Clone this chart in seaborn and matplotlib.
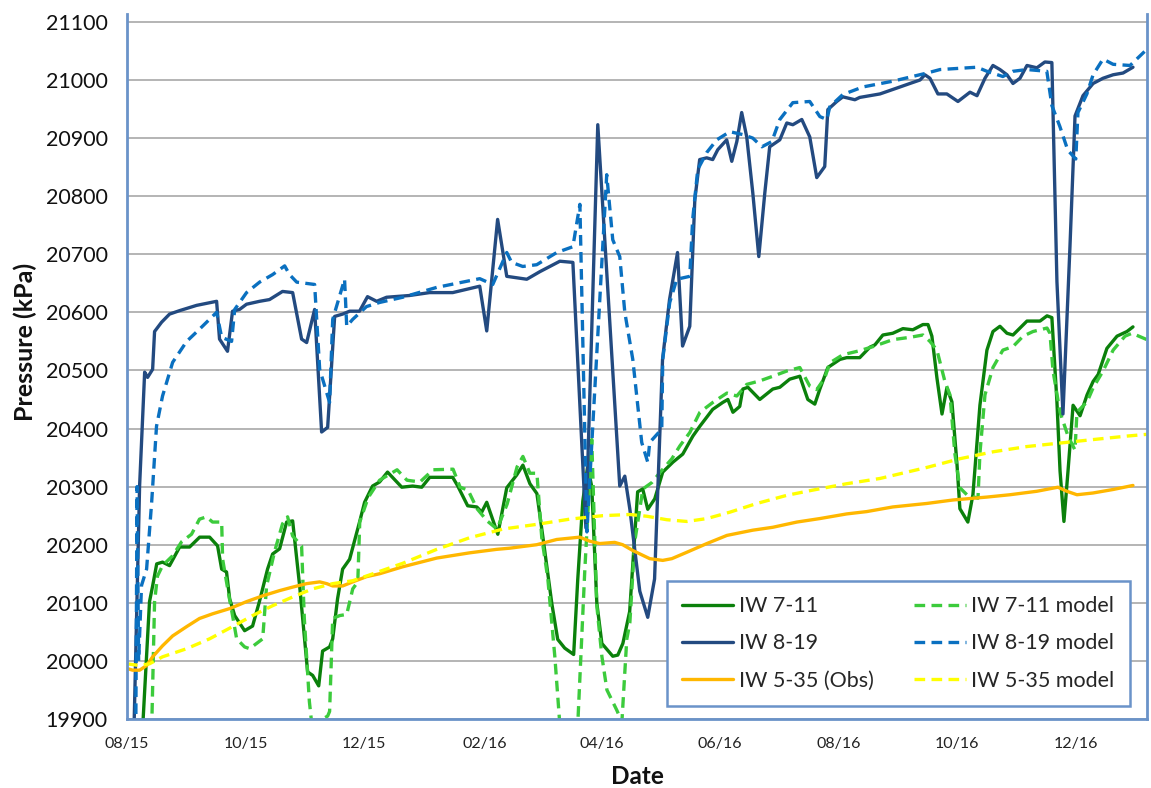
import numpy as np
import pandas as pd
import matplotlib
matplotlib.use("Agg")
import matplotlib.pyplot as plt
import matplotlib.dates as mdates
from matplotlib.lines import Line2D
import seaborn as sns

# ---------------- data (days since 2015-08-01, pressure in kPa) ----------------
START = "2015-08-01"
X_END_DAY = 524.5

iw711_day = [8.0, 11.6, 13.2, 15.3, 18.3, 21.9, 27.1, 32.2, 37.4, 42.5, 46.6, 48.7, 51.2, 52.8,
             55.4, 60.5, 64.6, 68.1, 72.3, 74.9, 78.5, 82.1, 85.2, 88.8, 92.9, 95.5, 98.6, 100.6,
             104.2, 105.8, 108.3, 110.9, 114.5, 119.6, 122.2, 126.3, 129.9, 134.0, 141.3, 146.9,
             151.6, 155.7, 167.5, 170.1, 175.2, 179.9, 182.4, 185.0, 187.6, 190.7, 195.3, 200.4,
             203.6, 207.2, 210.8, 213.8, 218.5, 221.5, 225.1, 229.7, 231.8, 234.4, 236.9, 239.0,
             241.6, 244.2, 249.8, 252.4, 255.0, 258.5, 262.6, 265.2, 267.8, 271.4, 275.5, 280.7,
             285.8, 291.0, 294.6, 301.2, 306.4, 309.0, 311.6, 315.1, 316.7, 319.3, 325.4, 332.1,
             335.7, 340.8, 346.0, 350.1, 353.7, 356.3, 360.4, 366.6, 370.1, 376.8, 382.0, 384.6,
             388.7, 393.8, 399.0, 404.1, 409.3, 411.9, 413.9, 416.5, 419.1, 421.6, 424.2, 426.8,
             428.3, 432.4, 435.0, 438.6, 442.2, 445.3, 448.9, 452.5, 455.6, 459.2, 462.8, 469.5,
             473.1, 475.6, 478.2, 479.8, 481.8, 483.9, 486.5, 490.1, 493.7, 496.8, 499.4, 503.9,
             509.1, 514.2, 517.3]
iw711_kpa = [19880, 20102, 20129, 20167, 20170, 20164, 20196, 20196, 20213, 20213, 20198, 20158, 20153, 20107,
             20078, 20052, 20060, 20102, 20158, 20184, 20193, 20239, 20241, 20129, 19981, 19975, 19957, 20017,
             20024, 20038, 20107, 20158, 20175, 20239, 20273, 20301, 20308, 20325, 20299, 20301,
             20299, 20316, 20316, 20301, 20267, 20265, 20256, 20273, 20248, 20218, 20298, 20320,
             20337, 20305, 20288, 20215, 20098, 20037, 20022, 20011, 20140, 20275, 20335, 20300,
             20100, 20030, 20008, 20010, 20030, 20085, 20291, 20296, 20261, 20279, 20325, 20342,
             20356, 20387, 20404, 20433, 20445, 20450, 20428, 20438, 20468, 20471, 20450, 20468,
             20471, 20485, 20490, 20450, 20442, 20468, 20505, 20519, 20522, 20522, 20540, 20544,
             20561, 20564, 20572, 20570, 20579, 20579, 20559, 20487, 20425, 20470, 20446, 20339,
             20262, 20239, 20286, 20440, 20535, 20567, 20576, 20564, 20561, 20573, 20585, 20585,
             20594, 20591, 20446, 20327, 20240, 20327, 20440, 20422, 20458, 20481, 20493, 20538,
             20559, 20567, 20575]

iw711m_day = [12.7, 14.2, 15.7, 18.3, 23.5, 28.1, 33.2, 37.3, 40.9, 44.0, 48.7, 49.2, 51.8, 54.3,
              56.4, 60.5, 63.1, 69.8, 71.8, 75.9, 80.0, 82.6, 85.2, 89.8, 91.2, 93.8, 95.4, 98.1,
              103.2, 104.2, 105.8, 109.4, 113.0, 116.1, 118.7, 119.7, 123.2, 124.8, 129.9, 138.9,
              144.0, 150.7, 157.4, 167.7, 171.3, 175.4, 180.0, 185.2, 190.3, 195.5, 200.6, 203.6,
              207.2, 210.8, 213.3, 216.4, 220.0, 222.6, 227.7, 231.8, 235.4, 239.0, 241.6, 244.2,
              246.8, 251.9, 254.5, 257.0, 258.6, 261.1, 265.3, 269.9, 274.0, 280.2, 284.3, 289.4,
              294.6, 301.3, 308.5, 313.6, 318.7, 325.4, 332.1, 339.3, 346.0, 351.1, 354.7, 358.8,
              361.4, 368.1, 376.8, 383.6, 393.8, 402.6, 409.3, 412.9, 416.5, 420.6, 423.2, 425.7,
              428.3, 431.9, 437.6, 438.6, 441.2, 445.3, 450.4, 455.6, 460.8, 465.9, 473.1, 474.6,
              476.2, 479.8, 483.9, 487.5, 488.5, 493.7, 496.8, 501.9, 507.1, 513.2, 516.8, 524.5]
iw711m_kpa = [19880, 20102, 20146, 20164, 20181, 20205, 20218, 20244, 20248, 20239, 20239, 20175, 20124, 20078,
              20038, 20024, 20021, 20038, 20129, 20188, 20236, 20248, 20215, 20198, 20073, 19930, 19880, 19895,
              19905, 19913, 20073, 20078, 20080, 20124, 20136, 20239, 20273, 20285, 20311, 20329,
              20311, 20308, 20329, 20330, 20299, 20294, 20262, 20241, 20227, 20270, 20334, 20352,
              20323, 20323, 20212, 20142, 20008, 19890, 19850, 19890, 20154, 20381, 20095, 20008,
              19950, 19915, 19895, 20037, 20066, 20205, 20296, 20307, 20324, 20348, 20370, 20393,
              20428, 20445, 20461, 20456, 20476, 20482, 20490, 20499, 20505, 20473, 20467, 20487,
              20513, 20527, 20534, 20541, 20553, 20557, 20561, 20550, 20535, 20481, 20458, 20357,
              20298, 20286, 20280, 20357, 20458, 20505, 20535, 20541, 20559, 20567, 20573, 20564,
              20499, 20428, 20387, 20363, 20428, 20446, 20470, 20499, 20535, 20559, 20564, 20553]

iw819_day = [3.4, 6.5, 9.1, 10.6, 13.2, 14.2, 17.8, 21.9, 27.1, 35.8, 46.1, 47.6, 51.7, 54.3,
             57.9, 61.5, 68.2, 73.3, 80.0, 85.2, 89.8, 92.4, 96.5, 100.1, 103.2, 106.8, 110.9, 114.5,
             119.6, 123.7, 128.4, 133.5, 145.3, 155.6, 167.5, 181.4, 185.0, 190.6, 195.3, 205.6,
             212.3, 222.6, 229.3, 236.0, 242.1, 253.4, 256.0, 258.6, 263.7, 267.8, 271.3, 275.4,
             279.0, 283.1, 285.7, 289.4, 292.0, 294.5, 298.1, 301.2, 303.8, 308.4, 311.0, 313.6,
             316.1, 318.7, 321.8, 324.9, 328.0, 330.5, 335.7, 339.3, 342.4, 347.0, 351.1, 354.7,
             358.8, 360.4, 365.0, 368.1, 374.3, 376.8, 387.2, 397.5, 402.6, 407.8, 410.3, 412.9,
             417.0, 421.6, 427.3, 433.5, 437.1, 441.2, 445.3, 448.9, 452.5, 455.6, 459.2, 462.8,
             467.9, 472.0, 475.6, 478.2, 481.3, 484.9, 487.5, 491.6, 496.8, 501.9, 507.1, 512.2,
             517.3]
iw819_kpa = [19850, 20301, 20497, 20488, 20502, 20567, 20583, 20597, 20603, 20612, 20619, 20554, 20533, 20602,
             20605, 20614, 20619, 20622, 20636, 20634, 20554, 20548, 20605, 20394, 20402, 20593, 20597, 20602,
             20602, 20627, 20619, 20626, 20629, 20634, 20634, 20645, 20568, 20760, 20662, 20657,
             20670, 20688, 20686, 20229, 20923, 20301, 20318, 20261, 20120, 20075, 20141, 20519,
             20622, 20703, 20542, 20576, 20794, 20863, 20866, 20863, 20880, 20897, 20860, 20894,
             20944, 20902, 20806, 20696, 20806, 20885, 20897, 20926, 20923, 20932, 20902, 20832,
             20851, 20949, 20963, 20971, 20966, 20970, 20976, 20988, 20994, 21000, 21009, 21003,
             20976, 20976, 20963, 20979, 20973, 21003, 21025, 21018, 21009, 20994, 21003, 21025,
             21021, 21031, 21030, 20653, 20425, 20713, 20938, 20973, 20994, 21003, 21009, 21012,
             21022]

iw819m_day = [4.5, 5.2, 6.0, 7.5, 10.1, 12.7, 15.2, 18.3, 23.5, 30.7, 37.3, 46.1, 48.7, 53.8,
              55.4, 61.5, 68.2, 74.9, 81.1, 83.6, 87.3, 96.5, 99.1, 104.2, 105.8, 111.9, 113.0, 116.1,
              123.2, 129.9, 141.8, 159.3, 181.4, 188.1, 195.3, 197.8, 203.5, 210.7, 221.0, 229.3,
              232.9, 236.5, 246.7, 249.8, 253.4, 256.0, 260.1, 264.7, 267.8, 268.8, 275.0, 275.5,
              279.1, 282.7, 289.4, 290.9, 293.5, 298.1, 303.3, 310.0, 316.7, 321.8, 326.5, 331.6,
              335.7, 342.4, 351.1, 356.3, 359.9, 361.4, 368.1, 378.4, 393.9, 411.4, 418.1, 437.1,
              442.2, 450.4, 455.6, 462.8, 473.0, 475.6, 479.7, 483.8, 487.9, 489.0, 493.6, 496.8,
              501.9, 507.1, 515.8, 524.5]
iw819m_kpa = [19850, 20300, 20000, 20130, 20158, 20273, 20404, 20456, 20514, 20550, 20571, 20600, 20557, 20550,
              20605, 20634, 20652, 20665, 20680, 20665, 20652, 20648, 20502, 20445, 20588, 20657, 20576, 20588,
              20610, 20617, 20626, 20643, 20658, 20648, 20703, 20686, 20679, 20682, 20703, 20713,
              20786, 20222, 20837, 20725, 20696, 20600, 20519, 20376, 20342, 20376, 20399, 20519,
              20617, 20657, 20662, 20760, 20846, 20875, 20897, 20911, 20906, 20900, 20885, 20894,
              20932, 20961, 20963, 20937, 20932, 20954, 20975, 20988, 20998, 21012, 21018, 21022,
              21015, 21006, 21015, 21018, 21015, 20956, 20920, 20879, 20864, 20944, 20976, 21009,
              21036, 21027, 21025, 21053]

iw535_day = [0.0, 2.9, 6.5, 10.1, 13.2, 18.3, 23.5, 30.7, 37.3, 44.0, 52.8, 61.5, 69.8, 78.5,
             85.2, 92.4, 99.1, 102.7, 105.8, 110.9, 116.1, 123.2, 129.9, 141.8, 159.3, 176.2, 190.1,
             196.8, 210.7, 221.0, 232.8, 238.0, 243.1, 250.8, 254.9, 260.1, 268.8, 275.5, 280.2,
             287.9, 298.2, 308.5, 321.8, 332.1, 344.5, 356.3, 370.1, 380.4, 393.8, 411.3, 424.8,
             442.2, 454.0, 467.9, 478.7, 483.3, 488.5, 496.7, 507.0, 517.3]
iw535_kpa = [19987, 19984, 19984, 19992, 20007, 20026, 20043, 20059, 20073, 20081, 20090, 20102, 20112, 20121,
             20127, 20133, 20136, 20133, 20129, 20129, 20136, 20145, 20150, 20162, 20177, 20186, 20192,
             20194, 20200, 20209, 20213, 20206, 20202, 20204, 20200, 20190, 20176, 20173, 20176,
             20187, 20202, 20216, 20225, 20230, 20239, 20245, 20253, 20257, 20265, 20271, 20277,
             20282, 20286, 20292, 20299, 20292, 20286, 20289, 20295, 20302]

iw535m_day = [0.0, 6.5, 11.6, 18.3, 30.7, 42.5, 54.3, 64.6, 74.9, 85.2, 95.5, 105.8, 116.1, 124.8,
              141.8, 159.3, 176.2, 193.4, 210.7, 227.7, 244.7, 258.6, 267.3, 277.6, 287.9, 298.2,
              310.0, 323.9, 339.3, 352.7, 370.1, 387.2, 411.3, 428.3, 445.5, 462.8, 479.8, 496.8,
              514.2, 524.5]
iw535m_kpa = [19995, 19992, 19995, 20007, 20021, 20038, 20059, 20078, 20095, 20110, 20124, 20133, 20138, 20148,
              20168, 20192, 20212, 20227, 20235, 20244, 20250, 20252, 20249, 20243, 20240, 20245,
              20256, 20271, 20285, 20294, 20305, 20314, 20333, 20348, 20360, 20369, 20375, 20381,
              20387, 20390]

series_names = ["IW 7-11", "IW 7-11 model", "IW 8-19", "IW 8-19 model",
                "IW 5-35 (Obs)", "IW 5-35 model"]
y_ticks = list(range(19900, 21101, 100))

# ---------------- styling ----------------
styles = {
    "IW 7-11":       dict(color="#0B800B", dashed=False),
    "IW 7-11 model": dict(color="#3CCB3C", dashed=True),
    "IW 8-19":       dict(color="#234A80", dashed=False),
    "IW 8-19 model": dict(color="#0A70C0", dashed=True),
    "IW 5-35 (Obs)": dict(color="#FFB700", dashed=False),
    "IW 5-35 model": dict(color="#FFFF00", dashed=True),
}
DASH = (0, (3.2, 1.9))
LW = 2.4
SPINE = "#6A93C9"

base = pd.Timestamp(START)
frames = []
for name, d, v in [("IW 7-11", iw711_day, iw711_kpa), ("IW 7-11 model", iw711m_day, iw711m_kpa),
                   ("IW 8-19", iw819_day, iw819_kpa), ("IW 8-19 model", iw819m_day, iw819m_kpa),
                   ("IW 5-35 (Obs)", iw535_day, iw535_kpa), ("IW 5-35 model", iw535m_day, iw535m_kpa)]:
    frames.append(pd.DataFrame({"date": base + pd.to_timedelta(np.array(d), unit="D"),
                                "kpa": v, "series": name}))
df = pd.concat(frames, ignore_index=True)

sns.set_theme(style="white")
plt.rcParams["font.family"] = ["Lato", "DejaVu Sans"]

fig = plt.figure(figsize=(11.51, 7.88), dpi=100)
ax = fig.add_axes([0.1103, 0.0876, 0.8862, 0.8947])

handles = {}
for name in series_names:
    st = styles[name]
    sub = df[df["series"] == name]
    sns.lineplot(data=sub, x="date", y="kpa", ax=ax, color=st["color"], linewidth=LW,
                 estimator=None, sort=False, legend=False)
    line = ax.lines[-1]
    if st["dashed"]:
        line.set_linestyle(DASH)
    line.set_solid_joinstyle("round")
    line.set_dash_joinstyle("round")
    handles[name] = Line2D([0], [0], color=st["color"], lw=LW,
                           linestyle=DASH if st["dashed"] else "-")

ax.set_xlim(base, base + pd.Timedelta(days=X_END_DAY))
ax.set_ylim(19900, 21113.7)
ax.set_yticks(y_ticks)
ax.xaxis.set_major_locator(mdates.MonthLocator(bymonth=[2, 4, 6, 8, 10, 12]))
ax.xaxis.set_major_formatter(mdates.DateFormatter("%m/%y"))

ax.set_axisbelow(True)
ax.yaxis.grid(True, color="#A8A8A8", linewidth=1.2)
ax.xaxis.grid(False)

for s in ["left", "bottom", "right"]:
    ax.spines[s].set_visible(True)
    ax.spines[s].set_color(SPINE)
    ax.spines[s].set_linewidth(2.0)
ax.spines["top"].set_visible(False)

ax.tick_params(axis="x", direction="out", length=5, width=1.2, color=SPINE,
               labelsize=11.5, pad=8, labelcolor="#222222")
ax.tick_params(axis="y", length=0, labelsize=15.5, pad=14, labelcolor="#111111")
ax.set_xlabel("Date", fontsize=17.5, fontweight="bold", color="#111111")
ax.set_ylabel("Pressure (kPa)", fontsize=18, fontweight="bold", color="#111111")
ax.xaxis.label.set_verticalalignment("center")
ax.xaxis.set_label_coords(0.5, -0.081)
ax.yaxis.set_label_coords(-0.088, 0.535)

order = ["IW 7-11", "IW 8-19", "IW 5-35 (Obs)", "IW 7-11 model", "IW 8-19 model", "IW 5-35 model"]
leg = ax.legend([handles[n] for n in order], order, ncol=2, loc="lower left",
                bbox_to_anchor=(0.529, 0.0187, 0.454, 0.19), mode="expand",
                fontsize=15.5, frameon=True, fancybox=False, framealpha=1,
                edgecolor=SPINE, handlelength=2.4, handletextpad=0.25,
                labelspacing=0.8, borderpad=0.7, borderaxespad=0)
leg.get_frame().set_linewidth(1.8)

fig.savefig("out.png", dpi=100)
